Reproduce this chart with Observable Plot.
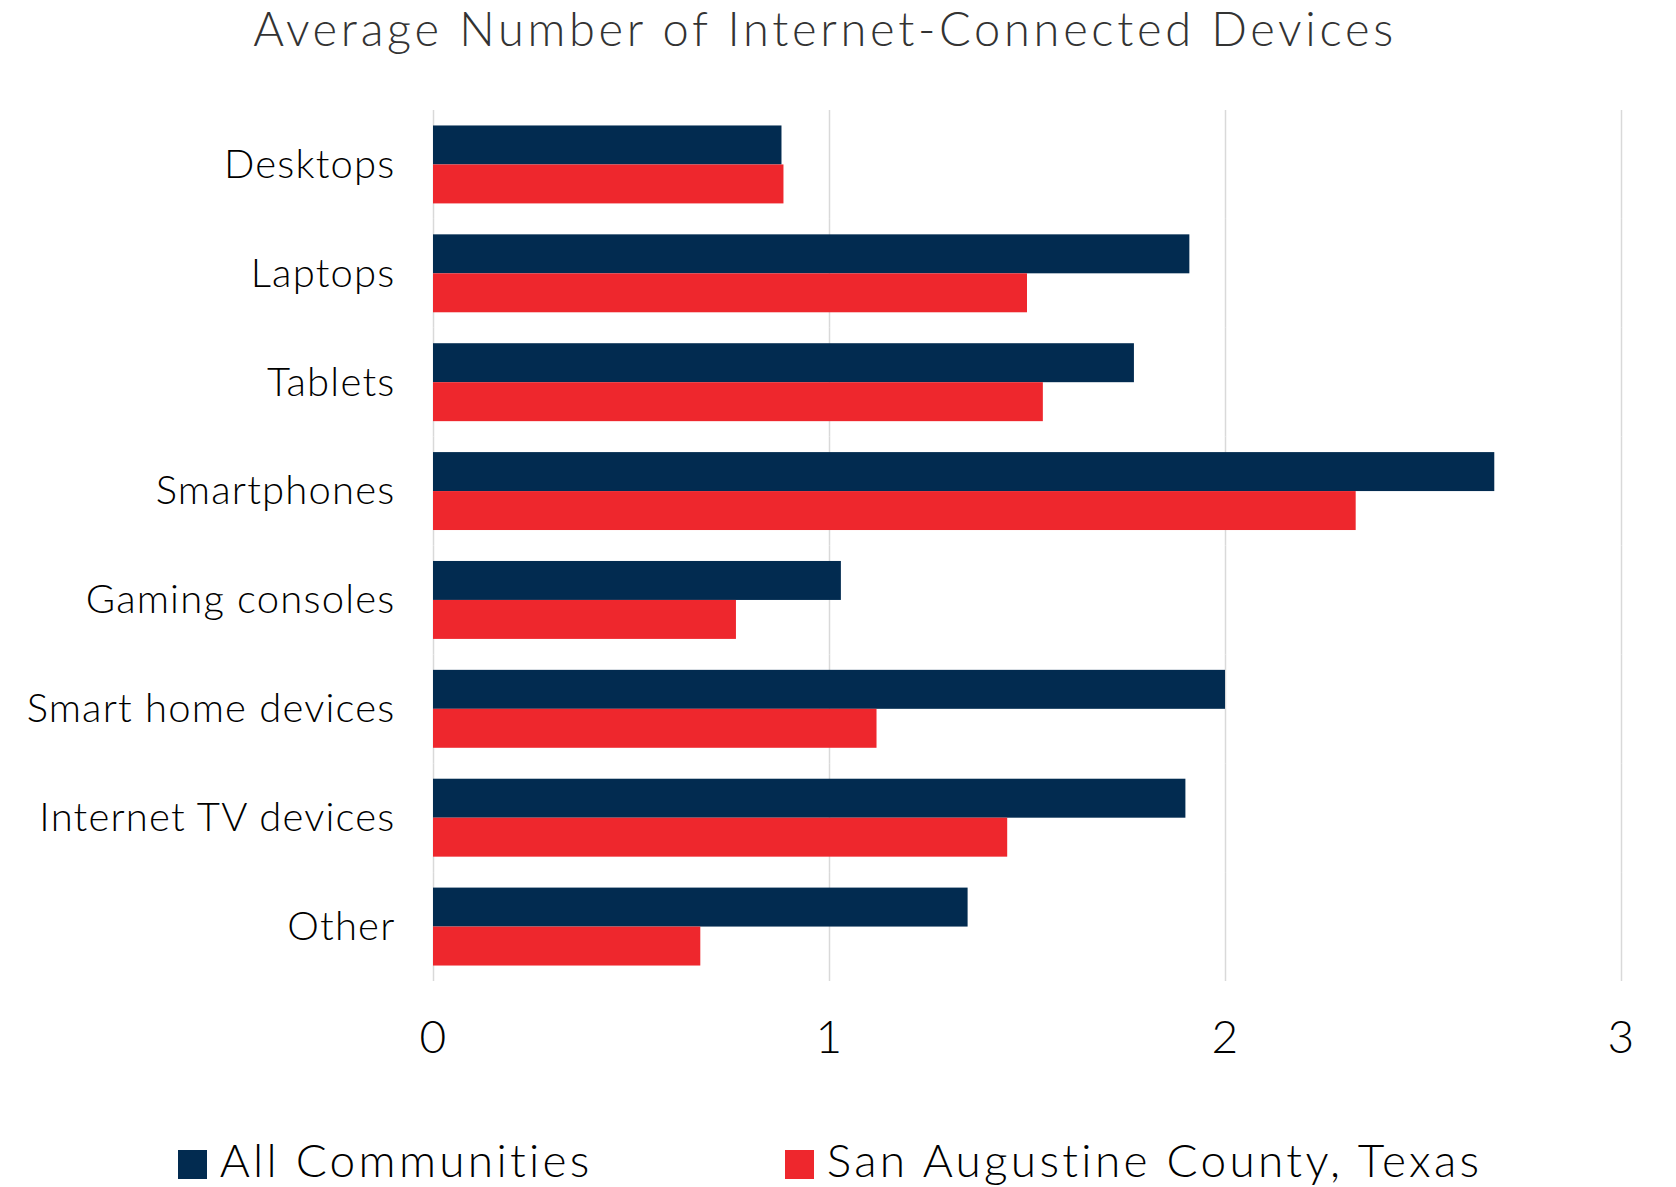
<!DOCTYPE html>
<html>
<head>
<meta charset="utf-8">
<script src="https://cdn.jsdelivr.net/npm/d3@7"></script>
<script src="https://cdn.jsdelivr.net/npm/@observablehq/plot@0.6"></script>
<style>
  html, body { margin: 0; padding: 0; background: #fff; }
  body { width: 1676px; height: 1187px; overflow: hidden; font-family: Lato, "Open Sans", sans-serif; }
  #title { height: 60px; font-size: 47px; font-weight: 300; color: #333; text-align: center; padding-right: 26px; letter-spacing: 3.7px; white-space: nowrap; }
  #chart svg { display: block; }
  #legend { display: flex; justify-content: center; gap: 192px; margin-top: 56px; padding-right: 16px; font-size: 46px; font-weight: 300; color: #000; letter-spacing: 3.3px; white-space: nowrap; }
  .item { display: flex; align-items: baseline; gap: 13px; }
  .sw { width: 29px; height: 29px; display: inline-block; position: relative; top: 2px; }
</style>
</head>
<body>
<div id="title">Average Number of Internet-Connected Devices</div>
<div id="chart"></div>
<div id="legend"></div>
<script>
const categories = ["Desktops", "Laptops", "Tablets", "Smartphones", "Gaming consoles", "Smart home devices", "Internet TV devices", "Other"];
const seriesNames = ["All Communities", "San Augustine County, Texas"];
const allCommunities = [0.88, 1.91, 1.77, 2.68, 1.03, 2.00, 1.90, 1.35];
const sanAugustine = [0.885, 1.50, 1.54, 2.33, 0.765, 1.12, 1.45, 0.675];
const xTicks = [0, 1, 2, 3];
const colors = ["#022b50", "#ee272d"];

const data = [];
categories.forEach((c, i) => {
  data.push({category: c, series: seriesNames[0], value: allCommunities[i]});
  data.push({category: c, series: seriesNames[1], value: sanAugustine[i]});
});

const chart = Plot.plot({
  width: 1676,
  height: 1016,
  marginTop: 50,
  marginBottom: 95,
  marginLeft: 433,
  marginRight: 55,
  style: {fontFamily: "Lato, 'Open Sans', sans-serif", color: "#000", fontWeight: 300, letterSpacing: "1.2px"},
  x: {domain: [0, 3], axis: null},
  y: {domain: seriesNames, paddingInner: 0, paddingOuter: 0.397, round: false, axis: null},
  fy: {domain: categories, padding: 0, round: false, axis: null},
  color: {domain: seriesNames, range: colors},
  marks: [
    Plot.gridX(xTicks, {stroke: "#d9d9d9", strokeOpacity: 1, strokeWidth: 1.5}),
    Plot.barX(data, {fy: "category", y: "series", x: "value", fill: "series"}),
    Plot.axisX({ticks: xTicks, tickSize: 0, tickPadding: 39, fontSize: 46, tickFormat: d3.format("d"), label: null}),
    Plot.axisFy({anchor: "left", tickSize: 0, tickPadding: 38, fontSize: 40, label: null})
  ]
});
document.getElementById("chart").appendChild(chart);

const legend = document.getElementById("legend");
seriesNames.forEach((s, i) => {
  const it = document.createElement("div");
  it.className = "item";
  const sw = document.createElement("span");
  sw.className = "sw";
  sw.style.background = colors[i];
  const t = document.createElement("span");
  t.textContent = s;
  it.appendChild(sw);
  it.appendChild(t);
  legend.appendChild(it);
});
</script>
</body>
</html>
